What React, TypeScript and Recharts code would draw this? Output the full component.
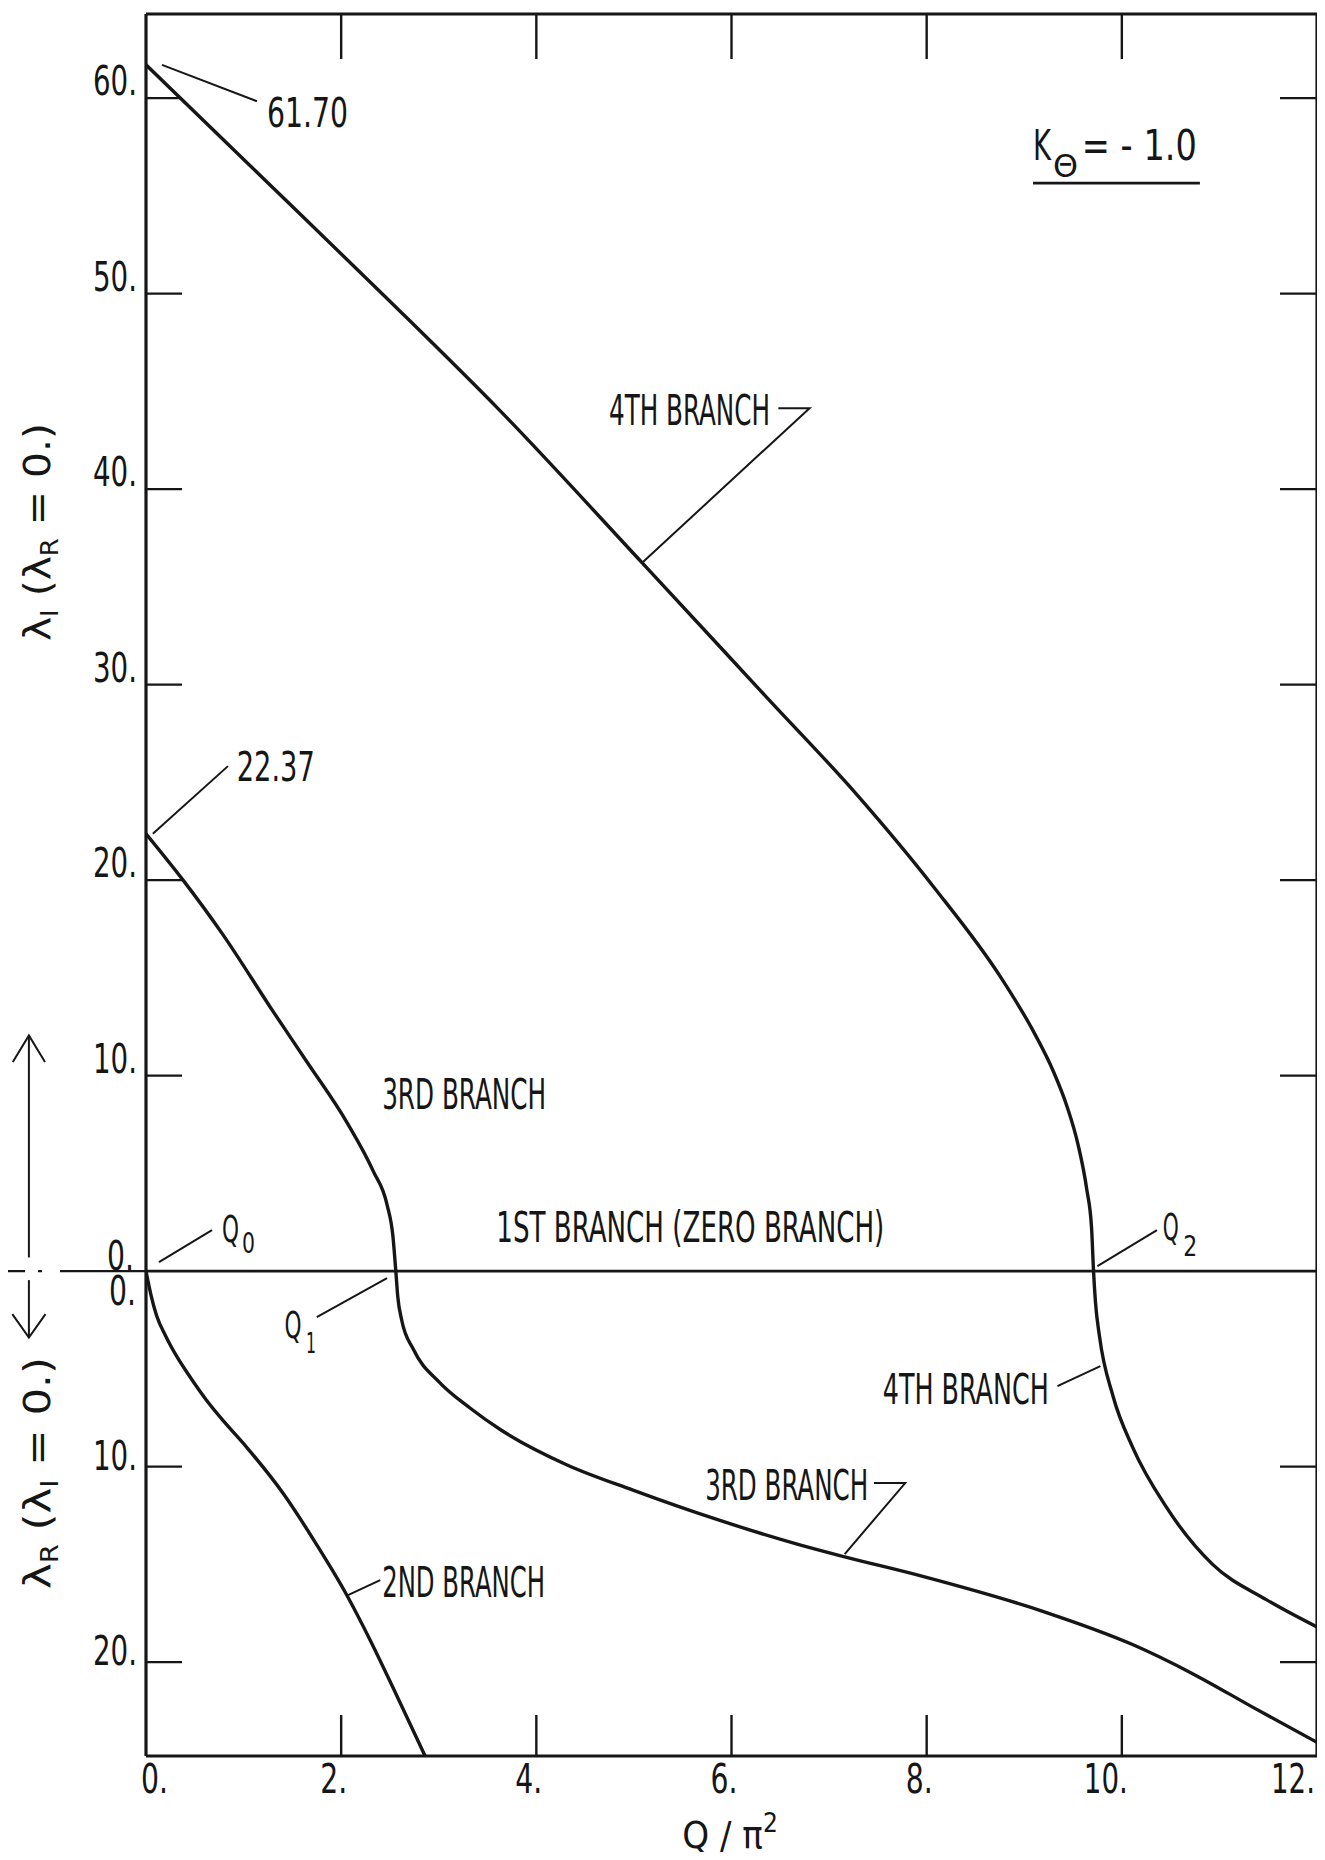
import React from 'react';
import { LineChart, Line, XAxis, YAxis, Customized } from 'recharts';

const CHART_W = 1317;
const CHART_H = 1850;
// plot box edges; each axis takes 1px of it so recharts still draws the axis
const PLOT_BOX = { top: 6, right: 8, bottom: 102, left: 138 };
const MARGIN = {
  top: PLOT_BOX.top - 1,
  right: PLOT_BOX.right - 1,
  bottom: PLOT_BOX.bottom - 1,
  left: PLOT_BOX.left - 1,
};
const X_DOMAIN: [number, number] = [0, 12];
const Y_DOMAIN: [number, number] = [-24.8, 64.3];

const INK = '#161616';
const FONT = '"Liberation Sans Narrow", "DejaVu Sans Condensed", "DejaVu Sans", sans-serif';

const xTicks = [0, 2, 4, 6, 8, 10, 12];
const yTicks = [-20, -10, 0, 10, 20, 30, 40, 50, 60];

// Q / pi^2 on x; lambda_I plotted upward, lambda_R plotted downward (negative)
const zeroQ = [0, 12];
const zeroV = [0, 0];

const secondQ = [0, 0.05, 0.11, 0.2, 0.32, 0.45, 0.62, 0.8, 1.03, 1.41, 1.75, 2.05, 2.3, 2.55, 2.86];
const secondV = [0, -1.2, -2.3, -3.3, -4.4, -5.4, -6.6, -7.7, -9.0, -11.4, -14.0, -16.5, -18.9, -21.5, -24.8];

const thirdQ = [
  0, 0.38, 0.79, 1.3, 1.65, 2.06, 2.33, 2.47, 2.53, 2.56, 2.58, 2.62, 2.74, 3.01, 3.32,
  3.63, 4.31, 4.99, 5.85, 6.7, 7.15, 7.95, 9.19, 10.11, 10.73, 11.34, 12.0,
];
const thirdV = [
  22.37, 20.0, 17.2, 13.3, 10.7, 7.6, 5.1, 3.4, 1.8, 0, -1.3, -2.5, -4.0, -5.7, -7.0,
  -8.1, -9.9, -11.2, -12.7, -14.0, -14.6, -15.6, -17.4, -19.1, -20.6, -22.3, -24.1,
];

const fourthQ = [
  0, 1.2, 2.47, 3.63, 5.09, 6.37, 7.28, 8.08, 8.75, 9.09, 9.3, 9.44, 9.55, 9.64, 9.69,
  9.71, 9.73, 9.77, 9.91, 10.11, 10.46, 10.93, 11.48, 12.0,
];
const fourthV = [
  61.7, 55.9, 49.75, 44.0, 36.2, 29.3, 24.4, 19.6, 15.1, 12.3, 10.2, 8.4, 6.5, 4.2, 2.2,
  0, -1.6, -3.3, -6.4, -9.0, -12.1, -15.0, -16.8, -18.2,
];

const toRows = (q: number[], v: number[]) => q.map((x, i) => ({ q: x, v: v[i] }));

const zeroData = toRows(zeroQ, zeroV);
const secondData = toRows(secondQ, secondV);
const thirdData = toRows(thirdQ, thirdV);
const fourthData = toRows(fourthQ, fourthV);

const PLOT_W = CHART_W - PLOT_BOX.left - PLOT_BOX.right;
const PLOT_H = CHART_H - PLOT_BOX.top - PLOT_BOX.bottom;
const sx = (q: number) => PLOT_BOX.left + ((q - X_DOMAIN[0]) / (X_DOMAIN[1] - X_DOMAIN[0])) * PLOT_W;
const sy = (v: number) => PLOT_BOX.top + ((Y_DOMAIN[1] - v) / (Y_DOMAIN[1] - Y_DOMAIN[0])) * PLOT_H;

const labelWidth = (s: string) =>
  s.split('').reduce((w, c) => w + (c === '.' ? 10 : 17), 0);

const TickText = ({ x, y, anchor, children }: any) => (
  <text
    x={x}
    y={y}
    fontSize={40}
    fontFamily={FONT}
    fill={INK}
    textAnchor={anchor}
    textLength={labelWidth(children)}
    lengthAdjust="spacingAndGlyphs"
  >
    {children}
  </text>
);

const BottomTick = ({ x, y, payload }: any) => {
  const val = payload.value;
  const inner = val > X_DOMAIN[0] && val < X_DOMAIN[1];
  const last = val >= X_DOMAIN[1];
  return (
    <g>
      {inner && <line x1={x} x2={x} y1={y} y2={y - 41} stroke={INK} strokeWidth={2.4} />}
      <TickText
        x={val === 0 ? x - 5 : last ? x - 2 : x + 6}
        y={y + 37}
        anchor={val === 0 ? 'start' : 'end'}
      >
        {`${val}.`}
      </TickText>
    </g>
  );
};

const TopTick = ({ x, y, payload }: any) => {
  const val = payload.value;
  if (val <= X_DOMAIN[0] || val >= X_DOMAIN[1]) return <g />;
  return <line x1={x} x2={x} y1={y} y2={y + 45} stroke={INK} strokeWidth={2.4} />;
};

const LeftTick = ({ x, y, payload }: any) => {
  const val = payload.value;
  if (val === 0) {
    return (
      <g>
        <TickText x={x - 12} y={y - 1} anchor="end">0.</TickText>
        <TickText x={x - 10} y={y + 34} anchor="end">0.</TickText>
      </g>
    );
  }
  return (
    <g>
      <line x1={x} x2={x + 36} y1={y} y2={y} stroke={INK} strokeWidth={2.2} />
      <TickText x={x - 9} y={val > 0 ? y - 3 : y + 3} anchor="end">
        {`${Math.abs(val)}.`}
      </TickText>
    </g>
  );
};

const RightTick = ({ x, y, payload }: any) => {
  if (payload.value === 0) return <g />;
  return <line x1={x - 37} x2={x} y1={y} y2={y} stroke={INK} strokeWidth={2.2} />;
};

const Label = ({ q, v, w, size = 42, children }: any) => (
  <text
    x={sx(q)}
    y={sy(v)}
    fontSize={size}
    fontFamily={FONT}
    fill={INK}
    textLength={w}
    lengthAdjust="spacingAndGlyphs"
  >
    {children}
  </text>
);

const Leader = ({ pts }: { pts: number[][] }) => (
  <polyline
    points={pts.map(([q, v]) => `${sx(q)},${sy(v)}`).join(' ')}
    fill="none"
    stroke={INK}
    strokeWidth={2}
  />
);

const SideTitle = ({ q, v, w, sub1, sub2 }: any) => (
  <text
    transform={`translate(${sx(q)},${sy(v)}) rotate(-90)`}
    textAnchor="middle"
    fontSize={38}
    fontFamily={FONT}
    fill={INK}
    textLength={w}
    lengthAdjust="spacingAndGlyphs"
  >
    λ
    <tspan fontSize={24} dy={8}>{sub1}</tspan>
    <tspan dy={-8}>{' (λ'}</tspan>
    <tspan fontSize={24} dy={8}>{sub2}</tspan>
    <tspan dy={-8}>{' = 0.)'}</tspan>
  </text>
);

const ARROW_Q = -1.2;

const Annotations = () => (
  <g>
    {/* zero line carried past the axis, with the sign arrows */}
    <line
      x1={sx(-1.465)}
      x2={sx(0)}
      y1={sy(0)}
      y2={sy(0)}
      stroke={INK}
      strokeWidth={2.4}
      strokeDasharray="22 13 4 18 400"
    />
    <Leader pts={[[ARROW_Q, 0.7], [ARROW_Q, 12.05]]} />
    <Leader pts={[[ARROW_Q - 0.165, 10.7], [ARROW_Q, 12.05], [ARROW_Q + 0.165, 10.7]]} />
    <Leader pts={[[ARROW_Q, -0.46], [ARROW_Q, -3.4]]} />
    <Leader pts={[[ARROW_Q - 0.17, -2.2], [ARROW_Q, -3.4], [ARROW_Q + 0.17, -2.2]]} />

    <SideTitle q={-0.98} v={37.8} w={218} sub1="I" sub2="R" />
    <SideTitle q={-0.98} v={-10.33} w={232} sub1="R" sub2="I" />

    <Label q={1.24} v={58.5} w={81} size={41}>61.70</Label>
    <Leader pts={[[0.164, 61.7], [1.137, 59.84]]} />

    <Label q={0.93} v={25.06} w={78} size={41}>22.37</Label>
    <Leader pts={[[0.07, 22.37], [0.84, 25.83]]} />

    <Label q={4.745} v={43.27} w={161}>4TH BRANCH</Label>
    <Leader pts={[[6.48, 44.14], [6.8, 44.14], [5.09, 36.26]]} />

    <Label q={2.42} v={8.29} w={164}>3RD BRANCH</Label>
    <Label q={3.59} v={1.48} w={388}>1ST BRANCH (ZERO BRANCH)</Label>

    <Label q={0.78} v={1.48} w={17} size={38}>Q</Label>
    <Label q={0.985} v={0.92} w={13} size={28}>0</Label>
    <Leader pts={[[0.133, 0.46], [0.676, 2.1]]} />

    <Label q={1.42} v={-3.43} w={17} size={38}>Q</Label>
    <Label q={1.64} v={-4.19} w={10} size={28}>1</Label>
    <Leader pts={[[1.75, -2.35], [2.47, -0.36]]} />

    <Label q={10.42} v={1.58} w={16} size={38}>Q</Label>
    <Label q={10.63} v={0.77} w={14} size={28}>2</Label>
    <Leader pts={[[9.75, 0.26], [10.36, 2.1]]} />

    <Label q={7.55} v={-6.8} w={166}>4TH BRANCH</Label>
    <Leader pts={[[9.34, -5.88], [9.78, -4.86]]} />

    <Label q={5.73} v={-11.71} w={163}>3RD BRANCH</Label>
    <Leader pts={[[7.46, -10.84], [7.78, -10.84], [7.16, -14.47]]} />

    <Label q={2.42} v={-16.67} w={163}>2ND BRANCH</Label>
    <Leader pts={[[2.07, -16.57], [2.4, -15.8]]} />

    <Label q={9.09} v={56.83} w={18} size={42}>K</Label>
    <Label q={9.295} v={55.96} w={25} size={32}>Θ</Label>
    <Label q={9.59} v={56.83} w={115} size={42}>= - 1.0</Label>
    <line x1={sx(9.09)} x2={sx(10.8)} y1={sy(55.65)} y2={sy(55.65)} stroke={INK} strokeWidth={2.6} />

    <text
      x={sx(5.985)}
      y={sy(-29.5)}
      textAnchor="middle"
      fontSize={38}
      fontFamily={FONT}
      fill={INK}
    >
      Q / π<tspan fontSize={26} dy={-16}>2</tspan>
    </text>
  </g>
);

const axisLine = { stroke: INK, strokeWidth: 3.2 };
const CURVE_W = 3.4;

export default function App() {
  return (
    <div style={{ width: CHART_W, height: 1844, background: '#fff' }}>
      <LineChart width={CHART_W} height={CHART_H} margin={MARGIN}>
        <XAxis
          type="number"
          dataKey="q"
          domain={X_DOMAIN}
          ticks={xTicks}
          allowDataOverflow
          height={1}
          tickSize={0}
          tickMargin={0}
          tickLine={false}
          axisLine={axisLine}
          tick={<BottomTick />}
          interval={0}
        />
        <XAxis
          xAxisId="top"
          orientation="top"
          type="number"
          dataKey="q"
          domain={X_DOMAIN}
          ticks={xTicks}
          allowDataOverflow
          height={1}
          tickSize={0}
          tickMargin={0}
          tickLine={false}
          axisLine={axisLine}
          tick={<TopTick />}
          interval={0}
        />
        <YAxis
          type="number"
          domain={Y_DOMAIN}
          ticks={yTicks}
          allowDataOverflow
          width={1}
          tickSize={0}
          tickMargin={0}
          tickLine={false}
          axisLine={axisLine}
          tick={<LeftTick />}
          interval={0}
        />
        <YAxis
          yAxisId="right"
          orientation="right"
          type="number"
          domain={Y_DOMAIN}
          ticks={yTicks}
          allowDataOverflow
          width={1}
          tickSize={0}
          tickMargin={0}
          tickLine={false}
          axisLine={axisLine}
          tick={<RightTick />}
          interval={0}
        />
        <Line data={zeroData} dataKey="v" type="linear" stroke={INK} strokeWidth={2.8} dot={false} isAnimationActive={false} />
        <Line data={secondData} dataKey="v" type="monotone" stroke={INK} strokeWidth={CURVE_W} dot={false} isAnimationActive={false} />
        <Line data={thirdData} dataKey="v" type="monotone" stroke={INK} strokeWidth={CURVE_W} dot={false} isAnimationActive={false} />
        <Line data={fourthData} dataKey="v" type="monotone" stroke={INK} strokeWidth={CURVE_W} dot={false} isAnimationActive={false} />
        <Customized component={<Annotations />} />
      </LineChart>
    </div>
  );
}
